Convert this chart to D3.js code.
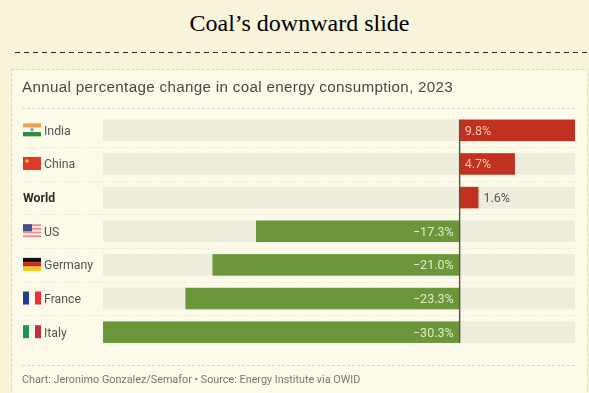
<!DOCTYPE html>
<html lang="en">

<head>
    <meta charset="UTF-8">
    <title>Coal's downward slide</title>
    <style>
    body {
        margin: 0;
        overflow: hidden;
        background: #f8f4d9;
    }

    svg {
        display: block;
    }

    .sans {
        font-family: Roboto, "Noto Sans", Arial, sans-serif;
    }
    </style>
</head>

<body>
    <svg width="589" height="393"></svg>
    <script src="https://d3js.org/d3.v7.min.js"></script>
    <script>
    const categories = ["India", "China", "World", "US", "Germany", "France", "Italy"];
    const values = [9.8, 4.7, 1.6, -17.3, -21.0, -23.3, -30.3];
    const valueLabels = ["9.8%", "4.7%", "1.6%", "\u221217.3%", "\u221221.0%", "\u221223.3%", "\u221230.3%"];

    const root = d3.select("svg");

    root.append("text")
        .attr("x", 299.5)
        .attr("y", 31)
        .attr("text-anchor", "middle")
        .attr("font-family", "'Liberation Serif', serif")
        .attr("font-size", 24)
        .attr("fill", "#000")
        .text("Coal\u2019s downward slide");

    root.append("line")
        .attr("x1", 15).attr("x2", 589)
        .attr("y1", 52.5).attr("y2", 52.5)
        .attr("stroke", "#222")
        .attr("stroke-dasharray", "5 4");

    // the chart is a pasted screenshot in the original, so it is a little soft
    const svg = root.append("g").style("filter", "blur(0.35px)");

    // card
    svg.append("rect")
        .attr("x", 11.5).attr("y", 69.5)
        .attr("width", 576).attr("height", 330)
        .attr("fill", "#fcfae8")
        .attr("stroke", "#d8d8c0")
        .attr("stroke-dasharray", "3 2");

    svg.append("text")
        .attr("x", 22)
        .attr("y", 91.5)
        .attr("font-family", "'Liberation Sans', Arial, sans-serif")
        .attr("font-size", 15.2)
        .attr("letter-spacing", 0.32)
        .attr("fill", "#4a4a44")
        .text("Annual percentage change in coal energy consumption, 2023");

    svg.append("line")
        .attr("x1", 22).attr("x2", 576)
        .attr("y1", 108.5).attr("y2", 108.5)
        .attr("stroke", "#dcdcc8")
        .attr("stroke-dasharray", "3 2");

    const x = d3.scaleLinear()
        .domain([d3.min(values), d3.max(values)])
        .range([103, 575]);

    const y = d3.scaleBand()
        .domain(categories)
        .range([113.5, 349])
        .paddingInner(0.36)
        .paddingOuter(0.18);

    const rows = categories.map((c, i) => ({ name: c, value: values[i], label: valueLabels[i] }));

    // dotted separators between rows
    svg.selectAll(".sep")
        .data(categories.slice(1))
        .enter().append("line")
        .attr("class", "sep")
        .attr("x1", 22).attr("x2", 576)
        .attr("y1", d => Math.round(y(d) - y.step() * 0.18) + 0.5)
        .attr("y2", d => Math.round(y(d) - y.step() * 0.18) + 0.5)
        .attr("stroke", "#e0e0cc")
        .attr("stroke-dasharray", "1 2");

    // light tracks
    svg.selectAll(".track")
        .data(rows)
        .enter().append("rect")
        .attr("class", "track")
        .attr("x", x.range()[0])
        .attr("y", d => y(d.name))
        .attr("width", x.range()[1] - x.range()[0])
        .attr("height", y.bandwidth())
        .attr("fill", "#eeecdc");

    svg.selectAll(".bar")
        .data(rows)
        .enter().append("rect")
        .attr("class", "bar")
        .attr("x", d => Math.min(x(0), x(d.value)))
        .attr("y", d => y(d.name))
        .attr("width", d => Math.abs(x(d.value) - x(0)))
        .attr("height", y.bandwidth())
        .attr("fill", d => d.value > 0 ? "#c0311f" : "#6c963c");

    // zero line
    svg.append("line")
        .attr("x1", x(0)).attr("x2", x(0))
        .attr("y1", y("India")).attr("y2", y("Italy") + y.bandwidth())
        .attr("stroke", "#55554f")
        .attr("stroke-width", 1.4);

    // value labels, the World bar is too short so its label sits outside
    svg.selectAll(".value")
        .data(rows)
        .enter().append("text")
        .attr("class", "value sans")
        .attr("x", d => {
            if (d.value < 0) return x(0) - 6;
            return d.name === "World" ? x(d.value) + 5 : x(0) + 5;
        })
        .attr("y", d => y(d.name) + y.bandwidth() / 2 + 4.5)
        .attr("text-anchor", d => d.value < 0 ? "end" : "start")
        .attr("font-size", 12.5)
        .attr("fill", d => {
            if (d.name === "World") return "#55554f";
            return d.value > 0 ? "#f6c4b4" : "#e2ebc8";
        })
        .text(d => d.label);

    // row names
    svg.selectAll(".name")
        .data(rows)
        .enter().append("text")
        .attr("class", "name sans")
        .attr("x", d => d.name === "World" ? 23 : 44)
        .attr("y", d => y(d.name) + y.bandwidth() / 2 + 4.5)
        .attr("font-size", 12.3)
        .attr("font-weight", d => d.name === "World" ? 700 : 400)
        .attr("fill", d => d.name === "World" ? "#2c2c28" : "#55554f")
        .text(d => d.name);

    // flags
    const flagW = 18, flagH = 13;
    const flag = svg.selectAll(".flag")
        .data(rows.filter(d => d.name !== "World"))
        .enter().append("g")
        .attr("class", "flag")
        .attr("transform", d => `translate(23,${y(d.name) + y.bandwidth() / 2 - flagH / 2 - 0.5})`);

    function stripes(g, colors, vertical) {
        colors.forEach((c, i) => {
            g.append("rect")
                .attr("x", vertical ? i * flagW / colors.length : 0)
                .attr("y", vertical ? 0 : i * flagH / colors.length)
                .attr("width", vertical ? flagW / colors.length : flagW)
                .attr("height", vertical ? flagH : flagH / colors.length)
                .attr("fill", c);
        });
    }

    flag.each(function(d) {
        const g = d3.select(this);
        if (d.name === "India") {
            stripes(g, ["#f3a24f", "#fbfaf0", "#2f8a3a"], false);
            g.append("circle").attr("cx", flagW / 2).attr("cy", flagH / 2).attr("r", 1.8).attr("fill", "#8f8fc0");
        } else if (d.name === "China") {
            stripes(g, ["#dc3a26"], false);
            g.append("circle").attr("cx", 4).attr("cy", 4).attr("r", 1.8).attr("fill", "#f0c040");
        } else if (d.name === "US") {
            stripes(g, ["#e58f92", "#f8e6e0", "#e58f92", "#f8e6e0", "#e58f92", "#f8e6e0", "#e58f92"], false);
            g.append("rect").attr("width", flagW * 0.5).attr("height", flagH * 0.55).attr("fill", "#44508e");
        } else if (d.name === "Germany") {
            stripes(g, ["#111", "#d5261e", "#f5c518"], false);
        } else if (d.name === "France") {
            stripes(g, ["#1f3f94", "#fcfae8", "#ee2d3d"], true);
        } else if (d.name === "Italy") {
            stripes(g, ["#1f9152", "#fcfae8", "#c5303c"], true);
        }
    });

    svg.append("line")
        .attr("x1", 22).attr("x2", 576)
        .attr("y1", 365.5).attr("y2", 365.5)
        .attr("stroke", "#d8d8c4")
        .attr("stroke-dasharray", "3 2");

    svg.append("text")
        .attr("class", "sans")
        .attr("x", 22)
        .attr("y", 383)
        .attr("font-size", 10.8)
        .attr("fill", "#77776e")
        .text("Chart: Jeronimo Gonzalez/Semafor \u2022 Source: Energy Institute via OWID");
    </script>
</body>

</html>
